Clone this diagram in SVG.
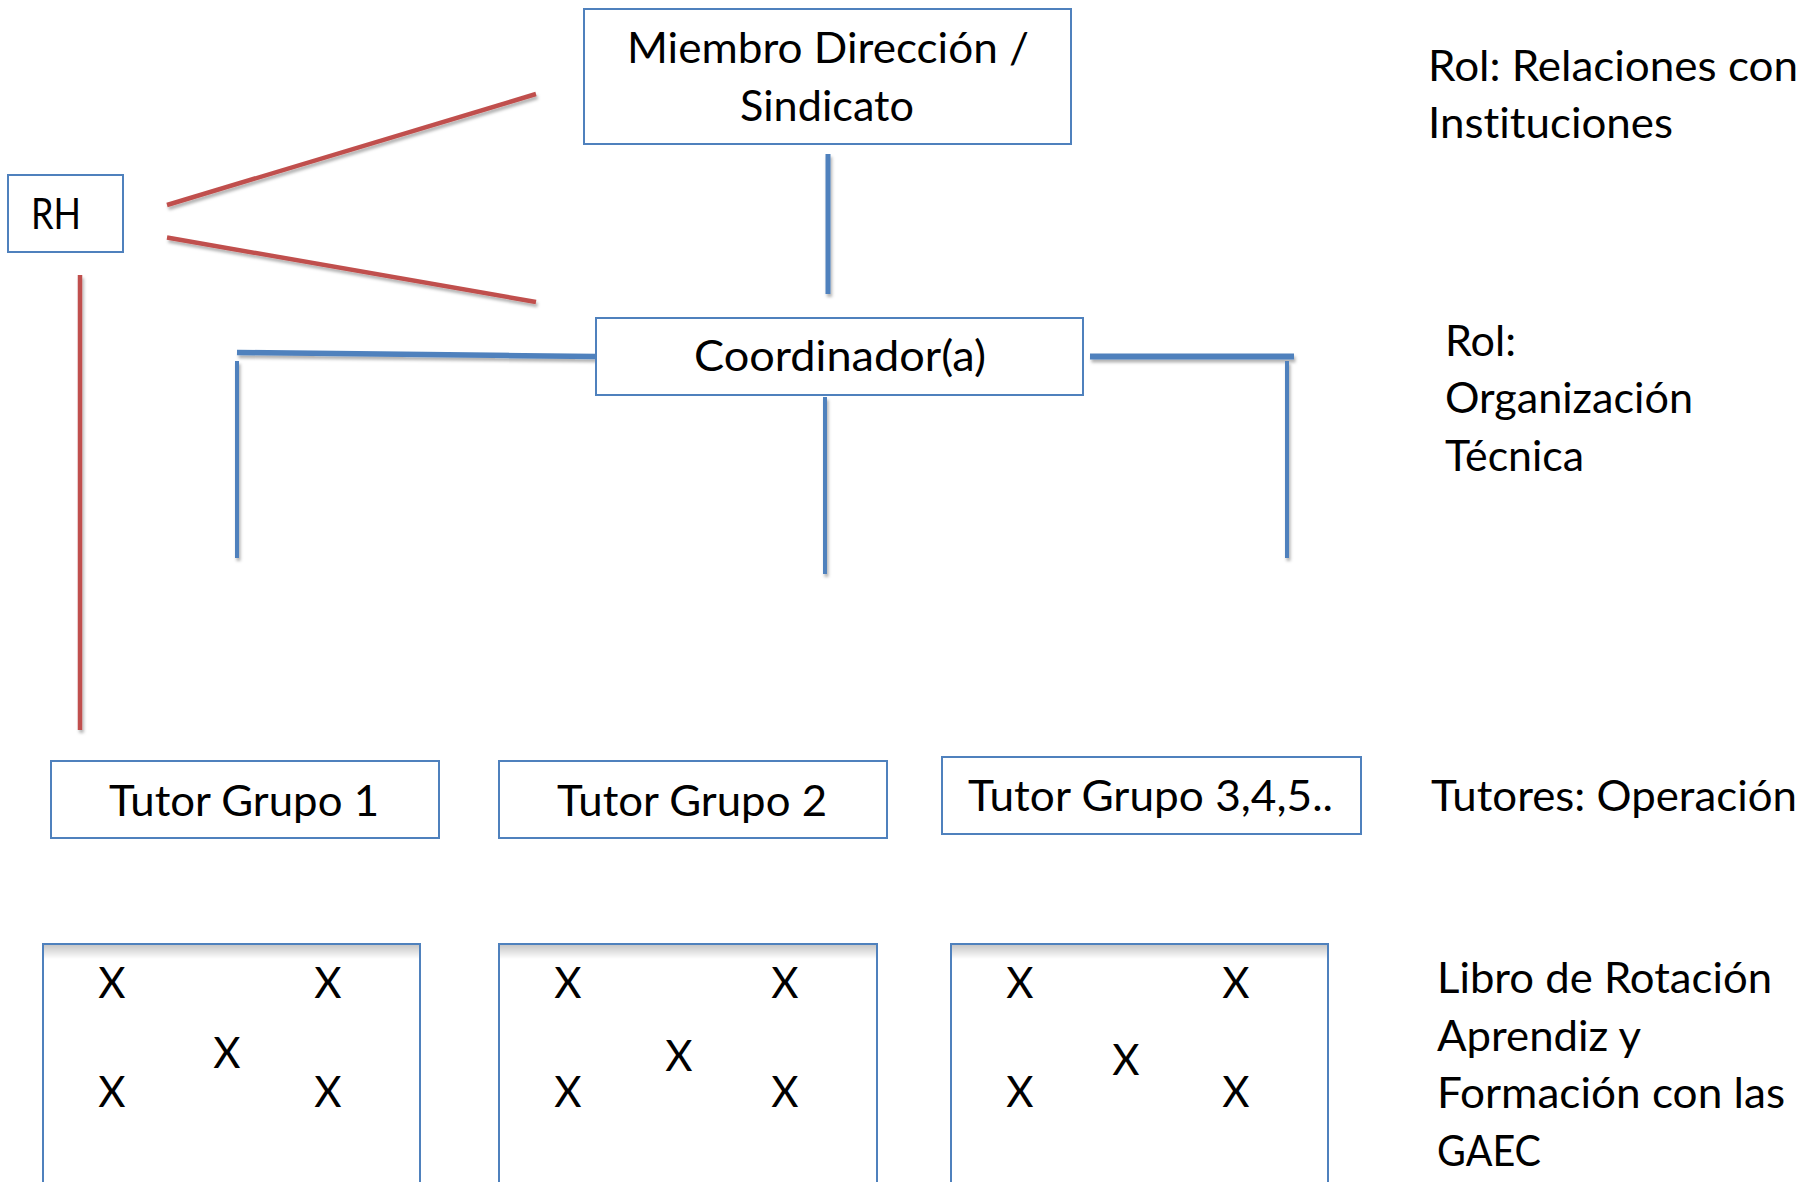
<svg xmlns="http://www.w3.org/2000/svg" width="1814" height="1182" viewBox="0 0 1814 1182">
  <defs>
    <style>
      .box { fill: #ffffff; stroke: #4F81BD; stroke-width: 2; }
      .lbl { font-family: Lato, "Open Sans", "Liberation Sans", sans-serif; font-size: 42px; fill: #000000; font-variant-ligatures: none; }
      .mark { font-family: Lato, "Open Sans", "Liberation Sans", sans-serif; font-size: 42px; fill: #000000; text-anchor: middle; }
      .blue { stroke: #4F81BD; fill: none; stroke-linecap: butt; }
      .red { stroke: #C0504D; fill: none; stroke-width: 4.5; stroke-linecap: butt; }
    </style>
    <filter id="shadow" x="-10%" y="-10%" width="120%" height="130%">
      <feDropShadow dx="1.5" dy="3" stdDeviation="1.5" flood-color="#000000" flood-opacity="0.3"/>
    </filter>
    <linearGradient id="innerTop" x1="0" y1="0" x2="0" y2="1">
      <stop offset="0" stop-color="#000000" stop-opacity="0.22"/>
      <stop offset="1" stop-color="#000000" stop-opacity="0"/>
    </linearGradient>
  </defs>

  <rect width="1814" height="1182" fill="#ffffff"/>

  <!-- connectors -->
  <g id="connectors" filter="url(#shadow)">
    <line class="blue" x1="828" y1="154" x2="828" y2="294" stroke-width="5"/>
    <line class="blue" x1="237" y1="352.5" x2="596" y2="356.5" stroke-width="5.5"/>
    <line class="blue" x1="237" y1="361" x2="237" y2="558" stroke-width="4"/>
    <line class="blue" x1="825" y1="397" x2="825" y2="574" stroke-width="4"/>
    <line class="blue" x1="1090" y1="356.5" x2="1294" y2="356.5" stroke-width="6"/>
    <line class="blue" x1="1287" y1="361" x2="1287" y2="558" stroke-width="4"/>
    <line class="red" x1="167" y1="205" x2="536" y2="94"/>
    <line class="red" x1="167" y1="237.5" x2="536" y2="302"/>
    <line class="red" x1="80" y1="275" x2="80" y2="730" stroke-width="4"/>
  </g>

  <g id="miembro">
    <rect class="box" x="584" y="9" width="487" height="135"/>
    <text class="lbl" x="627" y="63" textLength="402" lengthAdjust="spacingAndGlyphs">Miembro Dirección /</text>
    <text class="lbl" x="740" y="121" textLength="174" lengthAdjust="spacingAndGlyphs">Sindicato</text>
  </g>

  <g id="rh">
    <rect class="box" x="8" y="175" width="115" height="77"/>
    <text class="lbl" x="31" y="229" textLength="50" lengthAdjust="spacingAndGlyphs">RH</text>
  </g>

  <g id="coordinador">
    <rect class="box" x="596" y="318" width="487" height="77"/>
    <text class="lbl" x="694" y="371" textLength="292" lengthAdjust="spacingAndGlyphs">Coordinador(a)</text>
  </g>

  <g id="tutor1">
    <rect class="box" x="51" y="761" width="388" height="77"/>
    <text class="lbl" x="109" y="816" textLength="270" lengthAdjust="spacingAndGlyphs">Tutor Grupo 1</text>
  </g>

  <g id="tutor2">
    <rect class="box" x="499" y="761" width="388" height="77"/>
    <text class="lbl" x="557" y="816" textLength="270" lengthAdjust="spacingAndGlyphs">Tutor Grupo 2</text>
  </g>

  <g id="tutor3">
    <rect class="box" x="942" y="757" width="419" height="77"/>
    <text class="lbl" x="968" y="811" textLength="365" lengthAdjust="spacingAndGlyphs">Tutor Grupo 3,4,5..</text>
  </g>

  <!-- rotation books, open at the bottom edge of the page -->
  <g id="libro1">
    <rect class="box" x="43" y="944" width="377" height="260"/>
    <rect x="44" y="945" width="375" height="14" fill="url(#innerTop)"/>
    <text class="mark" x="112" y="998">X</text>
    <text class="mark" x="328" y="998">X</text>
    <text class="mark" x="227" y="1068">X</text>
    <text class="mark" x="112" y="1107">X</text>
    <text class="mark" x="328" y="1107">X</text>
  </g>

  <g id="libro2">
    <rect class="box" x="499" y="944" width="378" height="260"/>
    <rect x="500" y="945" width="376" height="14" fill="url(#innerTop)"/>
    <text class="mark" x="568" y="998">X</text>
    <text class="mark" x="785" y="998">X</text>
    <text class="mark" x="679" y="1071">X</text>
    <text class="mark" x="568" y="1107">X</text>
    <text class="mark" x="785" y="1107">X</text>
  </g>

  <g id="libro3">
    <rect class="box" x="951" y="944" width="377" height="260"/>
    <rect x="952" y="945" width="375" height="14" fill="url(#innerTop)"/>
    <text class="mark" x="1020" y="998">X</text>
    <text class="mark" x="1236" y="998">X</text>
    <text class="mark" x="1126" y="1075">X</text>
    <text class="mark" x="1020" y="1107">X</text>
    <text class="mark" x="1236" y="1107">X</text>
  </g>

  <!-- role captions -->
  <g id="rol-relaciones">
    <text class="lbl" x="1428" y="81" textLength="370" lengthAdjust="spacingAndGlyphs">Rol: Relaciones con</text>
    <text class="lbl" x="1428" y="138" textLength="245" lengthAdjust="spacingAndGlyphs">Instituciones</text>
  </g>

  <g id="rol-organizacion">
    <text class="lbl" x="1445" y="356" textLength="71" lengthAdjust="spacingAndGlyphs">Rol:</text>
    <text class="lbl" x="1445" y="413" textLength="248" lengthAdjust="spacingAndGlyphs">Organización</text>
    <text class="lbl" x="1445" y="471" textLength="139" lengthAdjust="spacingAndGlyphs">Técnica</text>
  </g>

  <g id="tutores-operacion">
    <text class="lbl" x="1431" y="811" textLength="366" lengthAdjust="spacingAndGlyphs">Tutores: Operación</text>
  </g>

  <g id="libro-rotacion">
    <text class="lbl" x="1437" y="993" textLength="335" lengthAdjust="spacingAndGlyphs">Libro de Rotación</text>
    <text class="lbl" x="1437" y="1051" textLength="204" lengthAdjust="spacingAndGlyphs">Aprendiz y</text>
    <text class="lbl" x="1437" y="1108" textLength="348" lengthAdjust="spacingAndGlyphs">Formación con las</text>
    <text class="lbl" x="1437" y="1166" textLength="104" lengthAdjust="spacingAndGlyphs">GAEC</text>
  </g>
</svg>
